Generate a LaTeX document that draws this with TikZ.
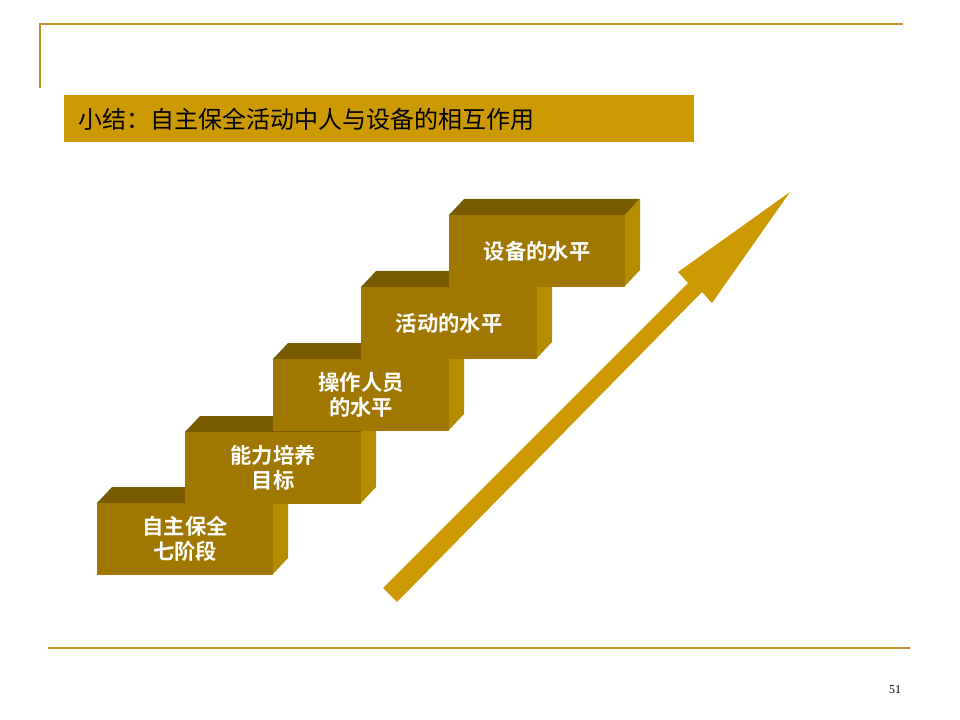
\documentclass[tikz,border=0pt]{standalone}
\usepackage{fontspec}
\newfontfamily\cjk{Noto Sans CJK SC}
\newfontfamily\cjkb{Noto Sans CJK SC Bold}
\setmainfont{Liberation Serif}
\definecolor{gold}{RGB}{204,153,0}
\definecolor{fr}{RGB}{160,120,0}
\definecolor{tp}{RGB}{122,92,0}
\definecolor{sd}{RGB}{184,140,0}
\definecolor{ln}{RGB}{190,150,40}
\begin{document}
\begin{tikzpicture}[x=0.75pt,y=-0.75pt,
  lbl/.style={font=\cjkb\fontsize{16}{19}\selectfont,text=white,align=center}]
\useasboundingbox (0,0) rectangle (960,720);
\draw[ln,line width=1pt] (40,88) -- (40,24) -- (903,24);
\draw[ln,line width=1pt] (48,648) -- (910,648);
\node[font=\fontsize{9}{10}\selectfont] (pg) at (895,690) {51};
\fill[gold] (64,95) rectangle (694,142);
\node[anchor=west,font=\cjk\fontsize{18}{20}\selectfont] (title) at (74,119) {小结：自主保全活动中人与设备的相互作用};
\foreach \i/\x/\y/\t in {1/97/503/{自主保全\\七阶段},2/185/432/{能力培养\\目标},3/273/359/{操作人员\\的水平},4/361/287/{活动的水平},5/449/215/{设备的水平}}{
  \fill[tp] (\x,\y) -- ++(15,-16) -- ++(176,0) -- ++(-15,16) -- cycle;
  \fill[sd] (\x+176,\y) -- ++(15,-16) -- ++(0,71) -- ++(-15,16) -- cycle;
  \fill[fr] (\x,\y) rectangle ++(176,72);
  \node[lbl] (b\i) at (\x+88,\y+36) {\t};
}
\coordinate (a0) at (390,595);
\coordinate (a1) at (790,192);
\fill[gold] (383,588) -- (688,283) -- (678,272) -- (790,192) -- (712,303) -- (702,292) -- (397,602) -- cycle;
\end{tikzpicture}
\end{document}
